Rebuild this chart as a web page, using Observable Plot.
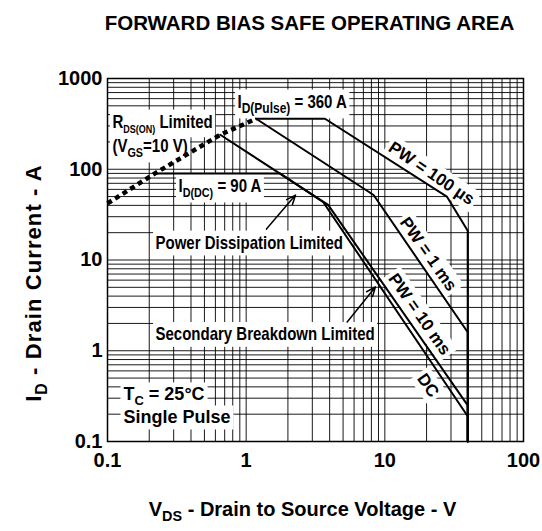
<!DOCTYPE html>
<html><head><meta charset="utf-8">
<script src="https://cdn.jsdelivr.net/npm/d3@7"></script>
<script src="https://cdn.jsdelivr.net/npm/@observablehq/plot@0.6"></script>
<style>body{margin:0;background:#fff} svg{display:block}</style>
</head><body><div id="chart"></div>
<script>
const title = "FORWARD BIAS SAFE OPERATING AREA";
const xLabel = "V_{DS} - Drain to Source Voltage - V";
const yLabel = "I_{D} - Drain Current - A";
const xTicks = [0.1, 1, 10, 100];
const xTickLabels = ["0.1", "1", "10", "100"];
const yTicks = [0.1, 1, 10, 100, 1000];
const yTickLabels = ["0.1", "1", "10", "100", "1000"];

// curves (V, A)
const rdsV = [0.1, 0.22, 0.65, 1.18];
const rdsI = [42, 90, 240, 360];
const pw100usV = [1.18, 3.7, 28, 39.6, 39.6];
const pw100usI = [360, 360, 50, 21, 0.1];
const pw1msV = [1.18, 8.3, 39.6, 39.6];
const pw1msI = [360, 52, 1.6, 0.1];
const pw10msV = [0.65, 3.9, 39.6, 39.6];
const pw10msI = [240, 40.5, 0.25, 0.1];
const dcV = [0.22, 1.75, 3.6, 39.6, 39.6];
const dcI = [90, 90, 43.3, 0.19, 0.1];

// annotations
const narrowText = ["I_{D(Pulse)} = 360 A", "R_{DS(ON)} Limited", "(V_{GS}=10 V)", "I_{D(DC)} = 90 A", "Power Dissipation Limited", "Secondary Breakdown Limited"];
const narrowX = [0.866, 0.1086, 0.1086, 0.325, 0.222, 0.222];
const narrowY = [474, 285, 155, 56, 13.2, 1.30];
const noteText = ["T_{C} = 25°C", "Single Pulse"];
const noteX = [0.1304, 0.1304];
const noteY = [0.2835, 0.158];
const curveText = ["PW = 100 µs", "PW = 1 ms", "PW = 10 ms", "DC"];
const curveX = [21.7, 20.6, 17.8, 20.5];
const curveY = [90, 11.6, 2.52, 0.415];
const curveAngle = [34, 55, 55, 55];
const arrowFromV = [1.40, 5.35], arrowFromI = [21.9, 2.07];
const arrowToV = [2.27, 8.55], arrowToI = [51.9, 5.05];

const pts = (V, I) => V.map((v, i) => ({x: v, y: I[i]}));
const xGrid = d3.scaleLog().domain([0.1, 100]).ticks();
const yGrid = d3.scaleLog().domain([0.1, 1000]).ticks();

function fontAvailable(name) {
  const c = document.createElement("canvas").getContext("2d");
  c.font = "40px monospace"; const a = c.measureText("Power Dissipation Limited").width;
  c.font = `40px '${name}', monospace`; const b = c.measureText("Power Dissipation Limited").width;
  return Math.abs(a - b) > 0.5;
}
const narrowOK = fontAvailable("Liberation Sans Narrow");
const baseFont = "'Liberation Sans', Arial, Helvetica, sans-serif";
const narrowFont = narrowOK ? "'Liberation Sans Narrow', 'Arial Narrow', sans-serif" : baseFont;

const lineStyle = {x: "x", y: "y", stroke: "black", strokeWidth: 2, strokeLinejoin: "miter"};
const narrowData = narrowText.map((t, i) => ({t, x: narrowX[i], y: narrowY[i]}));
const noteData = noteText.map((t, i) => ({t, x: noteX[i], y: noteY[i]}));
const curveData = curveText.map((t, i) => ({t, x: curveX[i], y: curveY[i], a: curveAngle[i]}));
const arrowData = arrowFromV.map((v, i) => ({x1: v, y1: arrowFromI[i], x2: arrowToV[i], y2: arrowToI[i]}));

const plot = Plot.plot({
  width: 542, height: 531,
  marginTop: 78, marginLeft: 107, marginRight: 19, marginBottom: 90,
  x: {type: "log", domain: [0.1, 100]},
  y: {type: "log", domain: [0.1, 1000]},
  style: {fontFamily: baseFont, background: "white", overflow: "visible", color: "black"},
  marks: [
    Plot.gridX(xGrid, {stroke: "black", strokeOpacity: 0.9, strokeWidth: 1}),
    Plot.gridY(yGrid, {stroke: "black", strokeOpacity: 0.9, strokeWidth: 1}),
    Plot.axisX(xTicks, {tickSize: 0, tickPadding: 11, fontSize: 20, fontWeight: "bold", tickFormat: d => xTickLabels[xTicks.indexOf(d)], label: null}),
    Plot.axisY(yTicks, {tickSize: 0, tickPadding: 5, fontSize: 20, fontWeight: "bold", tickFormat: d => yTickLabels[yTicks.indexOf(d)], label: null}),
    Plot.text(narrowData, {x: "x", y: "y", text: "t", textAnchor: "start", lineAnchor: "bottom", fontSize: 18.3, fontWeight: "bold", fontFamily: narrowFont, fill: "black"}),
    Plot.text(noteData, {x: "x", y: "y", text: "t", textAnchor: "start", lineAnchor: "bottom", fontSize: 18, fontWeight: "bold", fill: "black"}),
    Plot.text(curveData, {x: "x", y: "y", text: "t", rotate: "a", textAnchor: "middle", lineAnchor: "middle", fontSize: 17, fontWeight: "bold", fill: "black"}),
    Plot.line(pts(rdsV, rdsI), {x: "x", y: "y", stroke: "black", strokeWidth: 4.5, strokeDasharray: "5 4", strokeLinecap: "butt"}),
    Plot.line(pts(pw100usV, pw100usI), lineStyle),
    Plot.line(pts(pw1msV, pw1msI), lineStyle),
    Plot.line(pts(pw10msV, pw10msI), lineStyle),
    Plot.line(pts(dcV, dcI), lineStyle),
    Plot.arrow(arrowData, {x1: "x1", y1: "y1", x2: "x2", y2: "y2", stroke: "black", strokeWidth: 1.5, headLength: 10, headAngle: 45}),
    Plot.frame({stroke: "black", strokeWidth: 1.5}),
    Plot.text([title], {text: d => d, frameAnchor: "top", dx: -6, dy: -49, lineAnchor: "bottom", fontSize: 20.5, fontWeight: "bold", fill: "black"}),
    Plot.text([xLabel], {text: d => d, frameAnchor: "bottom", dx: -13, dy: 74, lineAnchor: "bottom", fontSize: 20, fontWeight: "bold", fill: "black"}),
    Plot.text([yLabel], {text: d => d, frameAnchor: "left", dx: -67, dy: 23, rotate: -90, textAnchor: "middle", lineAnchor: "bottom", fontSize: 22, fontWeight: "bold", fill: "black"})
  ]
});
document.getElementById("chart").appendChild(plot);

// dotted R_DS(ON) line
plot.querySelectorAll('g[stroke-width="4.5"] path').forEach(p => {
  p.setAttribute("stroke-dasharray", "5 4");
  p.setAttribute("stroke-linecap", "butt");
});

// post-processing: subscripts, narrow fallback, white label boxes
const narrowSet = new Set(narrowText);
const boxSet = new Set([...narrowText, ...noteText, ...curveText]);
const boxed = [];
plot.querySelectorAll("text").forEach(t => {
  const content = t.textContent;
  if (boxSet.has(content)) boxed.push(t);
  if (content === yLabel) t.setAttribute("letter-spacing", "1.1");
  if (!narrowOK && narrowSet.has(content)) {
    t.setAttribute("transform", (t.getAttribute("transform") || "") + " scale(0.82,1)");
  }
  if (!content.includes("_{")) return;
  const fs = parseFloat(getComputedStyle(t).fontSize) || 16;
  const sub = content.startsWith("I_{D(Pulse)") ? 0.8 : content.startsWith("R_{") ? 0.6 : 0.72;
  const sel = d3.select(t); sel.text(null);
  const re = /_\{([^}]*)\}/g; let last = 0, m;
  while ((m = re.exec(content))) {
    if (m.index > last) sel.append("tspan").text(content.slice(last, m.index));
    sel.append("tspan").attr("font-size", (fs * sub) + "px").attr("dy", (fs * 0.28) + "px").text(m[1]);
    last = re.lastIndex;
    if (last < content.length) {
      const nx = content.slice(last).search(/_\{/);
      const seg = nx < 0 ? content.slice(last) : content.slice(last, last + nx);
      sel.append("tspan").attr("dy", (-fs * 0.28) + "px").text(seg);
      last += seg.length;
    }
  }
});
const pad = 3;
const rects = boxed.map(t => {
  const b = t.getBBox();
  const r = document.createElementNS("http://www.w3.org/2000/svg", "rect");
  r.setAttribute("x", b.x - pad); r.setAttribute("y", b.y - pad + 1);
  r.setAttribute("width", b.width + 2 * pad); r.setAttribute("height", b.height + 2 * pad - 2);
  r.setAttribute("fill", "white");
  const tr = t.getAttribute("transform"); if (tr) r.setAttribute("transform", tr);
  return [t.parentNode, r];
});
rects.forEach(([g, r]) => g.insertBefore(r, g.firstChild));
</script>
</body></html>
